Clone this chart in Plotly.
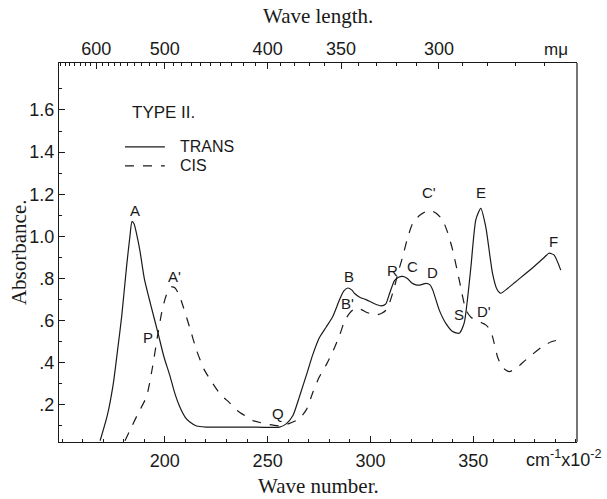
import plotly.graph_objects as go

# ---- data (wave number in cm^-1 x 10^-2, absorbance) ----
trans_x = [168.5, 172, 174.9, 177, 179, 181.4, 183, 184, 185, 186.5, 187.9, 190, 193, 196.7, 199.5,
           202.4, 205, 207.3, 210, 212, 215.4, 220, 240, 255.8, 259, 262.3, 265.5, 268.8, 272,
           275.2, 278.5, 281.7, 285, 287, 289, 291, 292.2, 295, 297.9, 302, 305.2, 307.5, 309,
           311.7, 313.5, 315.7, 318, 320, 322.2, 324.5, 327, 329, 330.3, 333.5, 336.7, 340,
           343.2, 345.6, 347.2, 348.9, 351.3, 353.7, 356.1, 359.4, 361.5, 363.4, 367, 370.7,
           378.8, 384, 386.9, 389.3, 392.6]
trans_y = [0.03, 0.15, 0.30, 0.46, 0.62, 0.86, 1.00, 1.07, 1.06, 1.00, 0.93, 0.80, 0.68, 0.54, 0.43,
           0.34, 0.25, 0.19, 0.14, 0.12, 0.10, 0.095, 0.095, 0.095, 0.11, 0.15, 0.24, 0.34, 0.44,
           0.52, 0.57, 0.62, 0.70, 0.74, 0.755, 0.745, 0.73, 0.71, 0.70, 0.68, 0.67, 0.68, 0.72,
           0.79, 0.805, 0.81, 0.80, 0.78, 0.77, 0.77, 0.777, 0.77, 0.746, 0.65, 0.587, 0.548,
           0.54, 0.588, 0.70, 0.856, 1.08, 1.133, 1.046, 0.824, 0.75, 0.73, 0.755, 0.785,
           0.85, 0.895, 0.92, 0.912, 0.84]

cis_x = [180.6, 184, 187, 191.1, 194, 196.7, 198.5, 200, 201.5, 203.2, 205, 207, 208.9, 212, 215.4,
         219, 223.4, 227, 231.5, 235, 239.6, 243, 247.7, 252, 255.8, 260, 265.5, 269, 272, 275,
         278.5, 282, 285, 287.5, 289.8, 292, 295, 298, 302.7, 305.5, 307.6, 309.5, 311.7, 313.5,
         315.7, 318, 320.5, 324, 328.6, 332, 335.1, 337.5, 340, 343.2, 346.5, 349, 351.3, 356.1,
         358, 359.4, 361.8, 364, 367.5, 371, 375.6, 383.6, 388, 391.7]
cis_y = [0.03, 0.10, 0.16, 0.24, 0.38, 0.543, 0.64, 0.70, 0.74, 0.76, 0.755, 0.72, 0.667, 0.57, 0.46,
         0.37, 0.30, 0.25, 0.21, 0.175, 0.145, 0.125, 0.113, 0.105, 0.10, 0.11, 0.135, 0.18, 0.26,
         0.33, 0.39, 0.46, 0.53, 0.60, 0.635, 0.655, 0.655, 0.64, 0.627, 0.635, 0.65, 0.69, 0.76,
         0.83, 0.904, 0.99, 1.06, 1.10, 1.125, 1.11, 1.078, 1.02, 0.936, 0.793, 0.65, 0.615,
         0.603, 0.58, 0.56, 0.524, 0.43, 0.38, 0.358, 0.375, 0.414, 0.477, 0.50, 0.509]

# curve point labels
label_text = ["A", "A'", "P", "Q", "B", "B'", "R", "C", "D", "C'", "E", "S", "D'", "F"]
label_x = [185.4, 204.9, 191.9, 255, 289.8, 289.0, 310.8, 320.5, 330.3, 328.6, 353.6, 343.2, 355.3, 389.3]
label_y = [1.125, 0.81, 0.518, 0.16, 0.81, 0.68, 0.84, 0.856, 0.83, 1.21, 1.21, 0.627, 0.643, 0.975]

# axis ticks
bottom_ticks = [200, 250, 300, 350]
y_ticks = [0.2, 0.4, 0.6, 0.8, 1.0, 1.2, 1.4, 1.6]
y_ticktext = [".2", ".4", ".6", ".8", "1.0", "1.2", "1.4", "1.6"]
top_wavelengths = [600, 500, 400, 350, 300]

INK = "#1a1a1a"
SANS = "Liberation Sans"
SERIF = "Liberation Serif"

fig = go.Figure()
fig.add_trace(go.Scatter(x=trans_x, y=trans_y, mode="lines", name="TRANS",
                         line=dict(color=INK, width=1.2, shape="spline", smoothing=0.6)))
fig.add_trace(go.Scatter(x=cis_x, y=cis_y, mode="lines", name="CIS",
                         line=dict(color=INK, width=1.2, dash="dash", shape="spline", smoothing=0.6)))
# invisible trace to activate top axis
fig.add_trace(go.Scatter(x=[200], y=[0.5], xaxis="x2", mode="markers",
                         marker=dict(opacity=0), showlegend=False, hoverinfo="skip"))

XR = [148.5, 400.5]
YR = [0.024, 1.823]

fig.update_layout(
    width=607, height=499,
    margin=dict(l=59, r=30, t=63, b=57),
    paper_bgcolor="white", plot_bgcolor="white",
    showlegend=False,
    xaxis=dict(range=XR, tickvals=bottom_ticks, ticks="inside", ticklen=6, tickcolor=INK,
               showline=True, linecolor=INK, linewidth=1.2, mirror=False, showgrid=False,
               zeroline=False, tickfont=dict(family=SANS, size=18, color=INK),
               ticklabelstandoff=2,
               minor=dict(tickmode="linear", tick0=150, dtick=10, ticks="inside", ticklen=3,
                          tickcolor=INK)),
    xaxis2=dict(range=XR, overlaying="x", side="top",
                tickvals=[1e5 / w for w in top_wavelengths],
                ticktext=[str(w) for w in top_wavelengths],
                ticks="inside", ticklen=6, tickcolor=INK,
                showline=True, linecolor=INK, linewidth=1.2, showgrid=False, zeroline=False,
                tickfont=dict(family=SANS, size=18, color=INK),
                ticklabelstandoff=0,
                minor=dict(tickmode="array",
                           tickvals=[1e5 / w for w in range(260, 700, 10)],
                           ticks="inside", ticklen=3, tickcolor=INK)),
    yaxis=dict(range=YR, tickvals=y_ticks, ticktext=y_ticktext, ticks="inside", ticklen=6,
               tickcolor=INK, showline=True, linecolor=INK, linewidth=1.2, mirror=False,
               showgrid=False, zeroline=False, tickfont=dict(family=SANS, size=18, color=INK),
               ticklabelstandoff=0,
               minor=dict(tickmode="linear", tick0=0.1, dtick=0.2, ticks="inside", ticklen=3,
                          tickcolor=INK)),
)

# right border
fig.add_shape(type="line", xref="paper", yref="paper", x0=1, x1=1, y0=0, y1=1,
              line=dict(color=INK, width=1.2))

# legend drawn inside plot
fig.add_annotation(x=183, y=1.59, text="TYPE II.", showarrow=False, xanchor="left",
                   font=dict(family=SANS, size=17, color=INK))
fig.add_shape(type="line", x0=180.6, x1=200, y0=1.425, y1=1.425, line=dict(color=INK, width=1.2))
fig.add_shape(type="line", x0=180.6, x1=200, y0=1.335, y1=1.335,
              line=dict(color=INK, width=1.2, dash="dash"))
fig.add_annotation(x=207, y=1.425, text="TRANS", showarrow=False, xanchor="left", borderpad=0,
                   font=dict(family=SANS, size=16, color=INK))
fig.add_annotation(x=207, y=1.335, text="CIS", showarrow=False, xanchor="left", borderpad=0,
                   font=dict(family=SANS, size=16, color=INK))

for t, x, y in zip(label_text, label_x, label_y):
    fig.add_annotation(x=x, y=y, text=t, showarrow=False, xanchor="center", yanchor="middle",
                       font=dict(family=SANS, size=15, color=INK))

# unit labels
fig.add_annotation(x=0.973, y=-0.008, xref="paper", yref="paper", xanchor="center", yanchor="top",
                   text="cm<sup>-1</sup>x10<sup>-2</sup>", showarrow=False,
                   font=dict(family=SANS, size=18, color=INK))
fig.add_annotation(x=390.5, y=1.0, xref="x", yref="paper", xanchor="center", yanchor="bottom",
                   yshift=2, text="mμ", showarrow=False, font=dict(family=SANS, size=17, color=INK))

# axis titles
fig.add_annotation(x=0.5, y=1, xref="paper", yref="paper", xanchor="center", yanchor="bottom",
                   yshift=33, text="Wave length.", showarrow=False,
                   font=dict(family=SERIF, size=21, color=INK))
fig.add_annotation(x=0.5, y=0, xref="paper", yref="paper", xanchor="center", yanchor="top",
                   yshift=-30, text="Wave number.", showarrow=False,
                   font=dict(family=SERIF, size=21, color=INK))
fig.add_annotation(x=-0.078, y=0.5, xref="paper", yref="paper", xanchor="center",
                   yanchor="middle", textangle=-90,
                   text="Absorbance.", showarrow=False,
                   font=dict(family=SERIF, size=21, color=INK))

fig.write_html("out.html")
